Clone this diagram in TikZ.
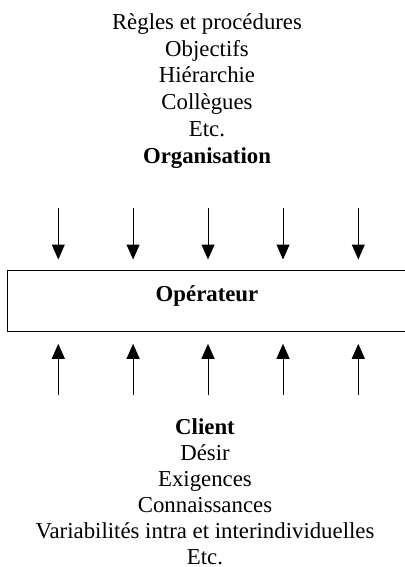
\documentclass[tikz,border=0pt]{standalone}
\usepackage{fontspec}
\setmainfont{Liberation Serif}
\usetikzlibrary{arrows.meta}
\begin{document}
\begin{tikzpicture}[x=1pt, y=-1pt,
  txt/.style={inner sep=0pt, anchor=base, font=\fontsize{22.8}{26.6}\selectfont},
  bold/.style={txt, font=\fontsize{22.8}{26.6}\selectfont\bfseries},
  flow/.style={line width=1pt, -{Triangle[length=15pt, width=13pt]}}]
  \useasboundingbox (0,0) rectangle (404,567);

  % Organisation side
  \node[txt]  (o1) at (207, 29.5)  {Règles et procédures};
  \node[txt]  (o2) at (207, 56.2)  {Objectifs};
  \node[txt]  (o3) at (207, 82.9)  {Hiérarchie};
  \node[txt]  (o4) at (207, 109.6) {Collègues};
  \node[txt]  (o5) at (207, 136.3) {Etc.};
  \node[bold] (o6) at (207, 163)   {Organisation};

  % Operator band (runs off the right edge)
  \node[draw, line width=1pt, minimum width=399pt, minimum height=61.2pt,
        inner sep=0pt] (op) at (207, 301.1) {};
  \node[bold] (opl) at (207, 301.7) {Opérateur};

  % Client side
  \node[bold] (c1) at (205, 434.5) {Client};
  \node[txt]  (c2) at (205, 460.5) {Désir};
  \node[txt]  (c3) at (205, 486.5) {Exigences};
  \node[txt]  (c4) at (205, 512.5) {Connaissances};
  \node[txt]  (c5) at (205, 538.5) {Variabilités intra et interindividuelles};
  \node[txt]  (c6) at (205, 564.5) {Etc.};

  % Influences on the operator
  \foreach \i/\x in {1/58.3, 2/133.1, 3/208, 4/283, 5/358.3} {
    \coordinate (t\i) at (\x, 207.5);
    \coordinate (b\i) at (\x, 395);
    \draw[flow, shorten >=10.5pt] (t\i) -- (t\i |- op.north);
    \draw[flow, shorten >=11.6pt] (b\i) -- (b\i |- op.south);
  }
\end{tikzpicture}
\end{document}
